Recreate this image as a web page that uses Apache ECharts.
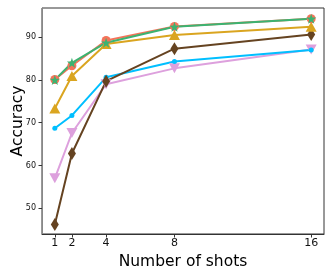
<!DOCTYPE html>
<html><head><meta charset="utf-8">
<script src="https://cdn.jsdelivr.net/npm/echarts@6/dist/echarts.min.js"></script>
<style>html,body{margin:0;padding:0;background:#fff}#c{width:333px;height:278px}</style>
</head><body><div id="c"></div>
<script>
var shots = [1, 2, 4, 8, 16];
var xTicks = [1, 2, 4, 8, 16];
var yTicks = [50, 60, 70, 80, 90];
var redVals = [80.1, 83.3, 89.2, 92.5, 94.3];
var greenVals = [80.0, 84.0, 88.7, 92.4, 94.3];
var orangeVals = [73.3, 80.9, 88.4, 90.5, 92.4];
var cyanVals = [68.7, 71.7, 80.6, 84.3, 87.0];
var pinkVals = [57.0, 67.6, 79.0, 82.7, 87.1];
var brownVals = [46.2, 62.8, 79.7, 87.3, 90.6];

var star = 'path://M0,-10 L2.35,-3.24 L9.51,-3.09 L3.8,1.24 L5.88,8.09 L0,4 L-5.88,8.09 L-3.8,1.24 L-9.51,-3.09 L-2.35,-3.24 Z';
function pts(v){ return shots.map(function(s,i){ return [s, v[i]]; }); }
function ser(name, vals, color, symbol, size, rot){
  return {name:name, type:'line', data:pts(vals), symbol:symbol, symbolSize:size, symbolRotate:rot||0,
    lineStyle:{color:color, width:2}, itemStyle:{color:color}, z:2, animation:false};
}
var chart = echarts.init(document.getElementById('c'), null, {renderer:'canvas'});
chart.setOption({
  animation:false,
  grid:{left:42, top:8, right:9, bottom:44, containLabel:false, outerBoundsMode:'none',
    show:true, borderColor:'#333', borderWidth:1},
  xAxis:{type:'value', min:0.25, max:16.75,
    name:'Number of shots', nameLocation:'middle', nameGap:20, nameMoveOverlap:false,
    nameTextStyle:{fontFamily:'DejaVu Sans', fontSize:15.5, color:'#000'},
    axisLine:{show:true, onZero:false, lineStyle:{color:'#333'}},
    axisTick:{show:true, length:3.5, customValues:xTicks, lineStyle:{color:'#333'}},
    axisLabel:{customValues:xTicks, fontFamily:'DejaVu Sans', fontSize:11, color:'#111', margin:4},
    splitLine:{show:false}},
  yAxis:{type:'value', min:44, max:96.8,
    name:'Accuracy', nameLocation:'middle', nameGap:16, nameRotate:90, nameMoveOverlap:false,
    nameTextStyle:{fontFamily:'DejaVu Sans', fontSize:15.5, color:'#000'},
    axisLine:{show:true, onZero:false, lineStyle:{color:'#888'}},
    axisTick:{show:true, length:3.5, customValues:yTicks, lineStyle:{color:'#333'}},
    axisLabel:{customValues:yTicks, fontFamily:'DejaVu Sans', fontSize:8, color:'#111', margin:6},
    splitLine:{show:false}},
  series:[
    ser('pink', pinkVals, '#DDA0DD', 'triangle', [11,10], 180),
    ser('cyan', cyanVals, '#00BFFF', 'circle', 5),
    ser('brown', brownVals, '#654321', 'diamond', [8,13]),
    ser('orange', orangeVals, '#DAA520', 'triangle', [11,10]),
    ser('red', redVals, '#F4745A', 'circle', 9),
    ser('green', greenVals, '#3CB371', star, 10)
  ]
});
</script></body></html>
